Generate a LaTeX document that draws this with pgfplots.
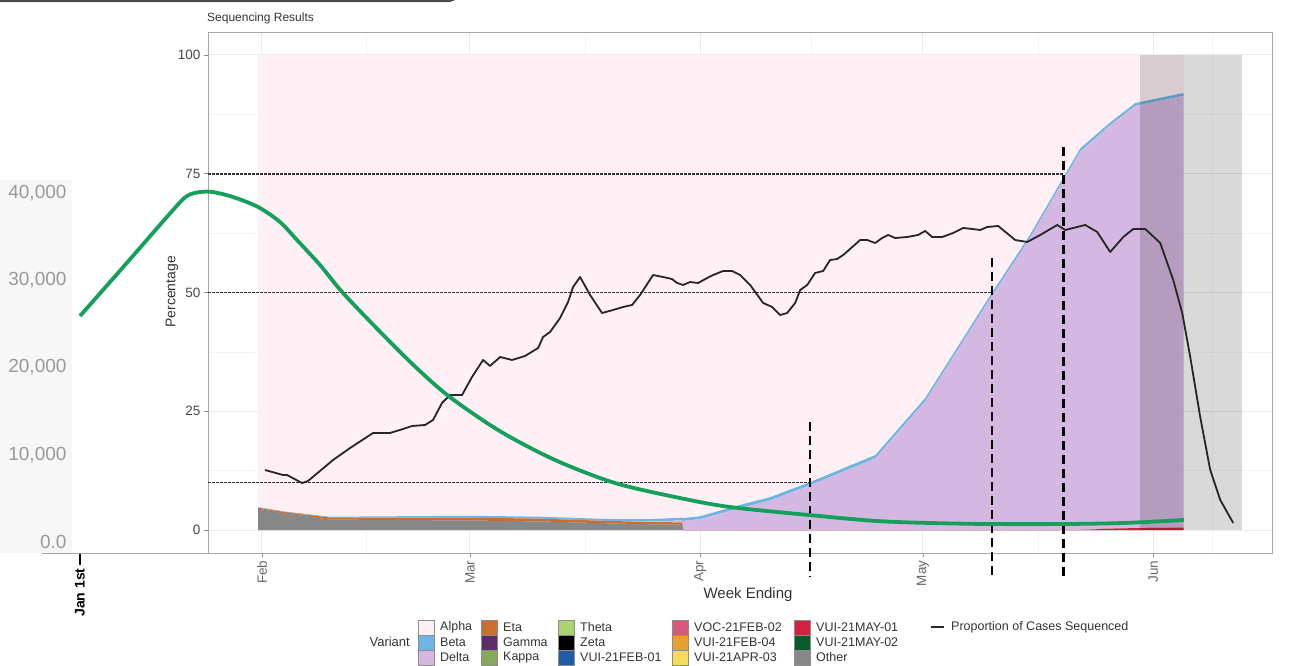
\documentclass[border=0pt]{standalone}
\usepackage{fontspec}
\setmainfont{Liberation Sans}
\usepackage{pgfplots}
\usepackage{pgfplotstable}
\pgfplotsset{compat=1.18}

\definecolor{alphaC}{HTML}{FFF0F5}
\definecolor{betaC}{HTML}{6DB6E3}
\definecolor{deltaC}{HTML}{D5B8E1}
\definecolor{etaC}{HTML}{C9702E}
\definecolor{gammaC}{HTML}{5C2D68}
\definecolor{kappaC}{HTML}{88A85A}
\definecolor{thetaC}{HTML}{A9D46F}
\definecolor{zetaC}{HTML}{000000}
\definecolor{febaC}{HTML}{1F5CA8}
\definecolor{febbC}{HTML}{D6587A}
\definecolor{febdC}{HTML}{E9A032}
\definecolor{aprC}{HTML}{F4DD5C}
\definecolor{mayaC}{HTML}{D2203E}
\definecolor{maybC}{HTML}{0C5A2B}
\definecolor{otherC}{HTML}{878787}
\definecolor{casesC}{HTML}{14A05C}
\definecolor{gridC}{HTML}{EBEBEB}

\newcommand\ticksize{\fontsize{13.5}{16}\selectfont}
\newcommand\legsize{\fontsize{12.5}{14}\selectfont}

% day = days since 1 Jan, shares in percent
\pgfplotstableread{
day   other may01 eta delta beta alpha
30.47 4.5 0   0.2 0    0.1 95.2
34.0  3.5 0   0.3 0    0.1 96.1
40.16 2.2 0   0.4 0    0.2 97.2
49.6  2.1 0   0.5 0    0.3 97.1
59.0  2.0 0   0.6 0    0.4 97.0
68.4  1.8 0   0.6 0    0.4 97.2
77.9  1.4 0   0.5 0    0.4 97.7
83.3  1.2 0   0.5 0.1  0.5 97.7
87.6  1.1 0   0.5 0.4  0.6 97.4
87.7  0   0   0   1.9  0.6 97.5
90.0  0   0   0   2.3  0.6 97.1
95.4  0   0   0   4.6  0.7 94.7
99.4  0   0   0   6.2  0.7 93.1
104.8 0   0   0   9.4  0.7 89.9
113.6 0   0   0   15.1 0.7 84.2
120.3 0   0   0   27.1 0.7 72.2
129.3 0   0   0   49.3 0.7 50.0
134.4 0   0   0   61.4 0.7 37.9
141.2 0   0   0   79.7 0.7 19.6
145.2 0   0.3 0   84.9 0.6 14.2
148.6 0   0.4 0   88.9 0.6 10.1
155.1 0   0.5 0   90.9 0.6 8.0
}\variants

\pgfplotstableread{
day pct
31.41 12.63
33.83 11.58
34.37 11.58
36.39 9.89
37.20 10.32
40.57 14.74
42.86 17.26
45.95 20.42
48.24 20.42
49.99 21.26
51.21 21.89
52.96 22.11
54.03 23.16
55.24 26.74
56.32 28.42
57.94 28.42
59.28 32.21
60.77 35.79
61.71 34.53
63.06 36.42
64.67 35.79
66.42 36.63
68.18 38.32
68.85 40.63
69.79 41.68
71.14 44.63
72.21 48.00
72.89 51.16
73.83 53.26
75.18 49.47
76.79 45.68
78.28 46.32
79.62 46.95
80.83 47.37
81.91 49.47
83.66 53.68
85.01 53.26
86.21 52.84
86.89 52.00
87.70 51.58
88.65 52.21
89.73 52.00
90.94 53.05
91.74 53.68
93.09 54.53
94.31 54.53
95.38 53.68
96.73 51.58
98.48 47.79
99.69 46.95
100.77 45.26
101.71 45.68
102.79 47.79
103.47 50.53
104.41 51.58
105.48 54.11
106.56 54.53
107.50 56.84
108.45 57.05
109.26 57.89
111.55 61.05
112.49 61.05
113.56 60.42
114.51 61.47
115.31 62.11
116.26 61.47
117.87 61.68
119.35 62.11
120.30 62.95
121.24 61.68
122.59 61.68
124.07 62.53
125.42 63.58
126.63 63.37
127.71 63.16
128.65 63.79
130.13 64.00
132.42 61.05
134.04 60.63
135.79 62.11
138.08 64.21
139.15 63.16
140.23 63.58
141.85 64.21
143.46 62.74
145.21 58.53
146.97 61.68
148.31 63.37
149.93 63.37
151.95 60.42
153.70 52.63
154.91 45.68
155.99 36.42
157.33 23.79
158.68 12.63
160.03 6.32
161.78 1.47
}\sequenced

\pgfplotstableread{
day cases
0 25900
6.43 31750
13.29 38050
15.29 39660
17.14 40110
19.00 40110
21.86 39540
25.43 38400
28.57 36680
31.00 34610
34.29 31750
37.57 28540
43.29 23750
48.14 19900
52.86 16600
60.00 12700
67.86 9400
76.43 6760
85.71 5040
92.86 4010
104.14 3090
113.71 2410
121.43 2180
130.00 2060
140.43 2060
149.14 2180
157.71 2520
}\cases

\newcommand\key[4]{%
  \fill[#3, draw=black!45, line width=0.5pt] (#1,{46-15*#2}) rectangle ({#1+16},{31-15*#2});
  \node[anchor=west, inner sep=0pt, font=\legsize, text=black!80] at ({#1+22},{38.5-15*#2}) {#4};}

\begin{document}
\begin{tikzpicture}[x=1pt,y=1pt]
\useasboundingbox (0,0) rectangle (1291,666);
\fill[black!3] (0,113) rectangle (72,486);
\draw[black!70, line width=2.5pt] (-5,665) -- (446,665) to[out=0,in=-130] (460,672);

% sequencing panel: stacked variant shares
\begin{axis}[
  at={(208pt,113pt)}, anchor=south west, scale only axis,
  width=1064pt, height=521pt,
  xmin=23.73, xmax=167.0, ymin=-4.84, ymax=104.84,
  stack plots=y,
  xtick={31,59,90,120,151}, xticklabels={Feb,Mar,Apr,May,Jun},
  minor xtick={45,74.5,105,135.5,159},
  ytick={0,25,50,75,100}, minor ytick={12.5,37.5,62.5,87.5},
  grid=both,
  major grid style={draw=gridC, line width=1pt},
  minor grid style={draw=gridC!55, line width=0.6pt},
  tick pos=left, tick align=outside,
  major tick length=4pt, minor tick length=0pt,
  tick style={draw=black!45, line width=0.8pt},
  axis line style={draw=black!35, line width=0.8pt},
  /pgf/number format/assume math mode=true,
  y tick label style={font=\ticksize, text=black!72},
  x tick label style={font=\ticksize, text=black!60, rotate=90, anchor=east},
  ylabel={Percentage},
  ylabel style={at={(axis description cs:-0.0338,0.501)}, anchor=center,
    font=\fontsize{14}{16}\selectfont, text=black!80},
  xlabel={Week Ending},
  xlabel style={at={(axis description cs:0.5075,-0.0806)}, anchor=center,
    font=\fontsize{15}{17}\selectfont, text=black!80},
]
\addplot[fill=otherC, draw=none] table[x=day, y=other] {\variants} \closedcycle;
\addplot[fill=mayaC, draw=none] table[x=day, y=may01] {\variants} \closedcycle;
\addplot[fill=etaC, draw=none] table[x=day, y=eta] {\variants} \closedcycle;
\addplot[fill=deltaC, draw=none] table[x=day, y=delta] {\variants} \closedcycle;
\addplot[fill=betaC, draw=none] table[x=day, y=beta] {\variants} \closedcycle;
\addplot[fill=alphaC, draw=none] table[x=day, y=alpha] {\variants} \closedcycle;
\end{axis}

% same panel: shading, thresholds, proportion sequenced
\begin{axis}[
  at={(208pt,113pt)}, anchor=south west, scale only axis,
  width=1064pt, height=521pt,
  xmin=23.73, xmax=167.0, ymin=-4.84, ymax=104.84,
  hide axis, clip=false,
]
\addplot[fill=black, fill opacity=0.15, draw=none] coordinates {(149.25,100) (162.99,100)} \closedcycle;
\addplot[black!80, line width=1.7pt, dash pattern=on 2.5pt off 1.5pt] coordinates {(23.73,75) (138.9,75)};
\addplot[black!80, line width=1.7pt, dash pattern=on 2.5pt off 1.5pt] coordinates {(23.73,50) (129.3,50)};
\addplot[black!80, line width=1.7pt, dash pattern=on 2.5pt off 1.5pt] coordinates {(23.73,10) (104.8,10)};
\addplot[black!85, line width=1.8pt, line join=round] table[x=day, y=pct] {\sequenced};
\addplot[black, line width=2.4pt, dash pattern=on 9pt off 5pt] coordinates {(104.8,22.7) (104.8,-9.9)};
\addplot[black, line width=2.4pt, dash pattern=on 9pt off 5pt] coordinates {(129.3,57.3) (129.3,-9.9)};
\addplot[black, line width=2.4pt, dash pattern=on 9pt off 5pt] coordinates {(138.9,80.6) (138.9,-9.9)};
\end{axis}

% overlaid daily cases
\begin{axis}[
  at={(70pt,113pt)}, anchor=south west, scale only axis,
  width=1202pt, height=373pt,
  xmin=-1.4286, xmax=170.286, ymin=-1260.7, ymax=41490,
  axis line style={draw=none},
  scaled y ticks=false,
  tick pos=left, tick align=outside, major tick length=12pt,
  xtick={0}, xticklabels={\textbf{Jan 1st}},
  x tick style={draw=black, line width=1.3pt},
  y tick style={draw=none},
  x tick label style={rotate=90, anchor=east, font=\fontsize{14}{16}\selectfont, text=black},
  ytick={0,10000,20000,30000,40000},
  yticklabels={0.0,{10,000},{20,000},{30,000},{40,000}},
  y tick label style={font=\fontsize{19}{22}\selectfont, text=black!40, xshift=12pt},
]
\addplot[casesC, line width=3.8pt, smooth, tension=0.5] table[x=day, y=cases] {\cases};
\end{axis}
\draw[black!35, line width=0.8pt] (42,113) -- (208,113);

\node[anchor=base west, inner sep=0pt, font=\fontsize{12}{14}\selectfont, text=black!80] at (207,644) {Sequencing Results};

% legend
\node[anchor=east, inner sep=0pt, font=\fontsize{13}{15}\selectfont, text=black!80] at (410,24) {Variant};
\key{418}{0}{alphaC}{Alpha}
\key{418}{1}{betaC}{Beta}
\key{418}{2}{deltaC}{Delta}
\key{481}{0}{etaC}{Eta}
\key{481}{1}{gammaC}{Gamma}
\key{481}{2}{kappaC}{Kappa}
\key{558}{0}{thetaC}{Theta}
\key{558}{1}{zetaC}{Zeta}
\key{558}{2}{febaC}{VUI-21FEB-01}
\key{672}{0}{febbC}{VOC-21FEB-02}
\key{672}{1}{febdC}{VUI-21FEB-04}
\key{672}{2}{aprC}{VUI-21APR-03}
\key{794}{0}{mayaC}{VUI-21MAY-01}
\key{794}{1}{maybC}{VUI-21MAY-02}
\key{794}{2}{otherC}{Other}
\draw[black!85, line width=2.2pt] (931,39) -- (944,39);
\node[anchor=west, inner sep=0pt, font=\legsize, text=black!80] at (951,39) {Proportion of Cases Sequenced};
\end{tikzpicture}
\end{document}
